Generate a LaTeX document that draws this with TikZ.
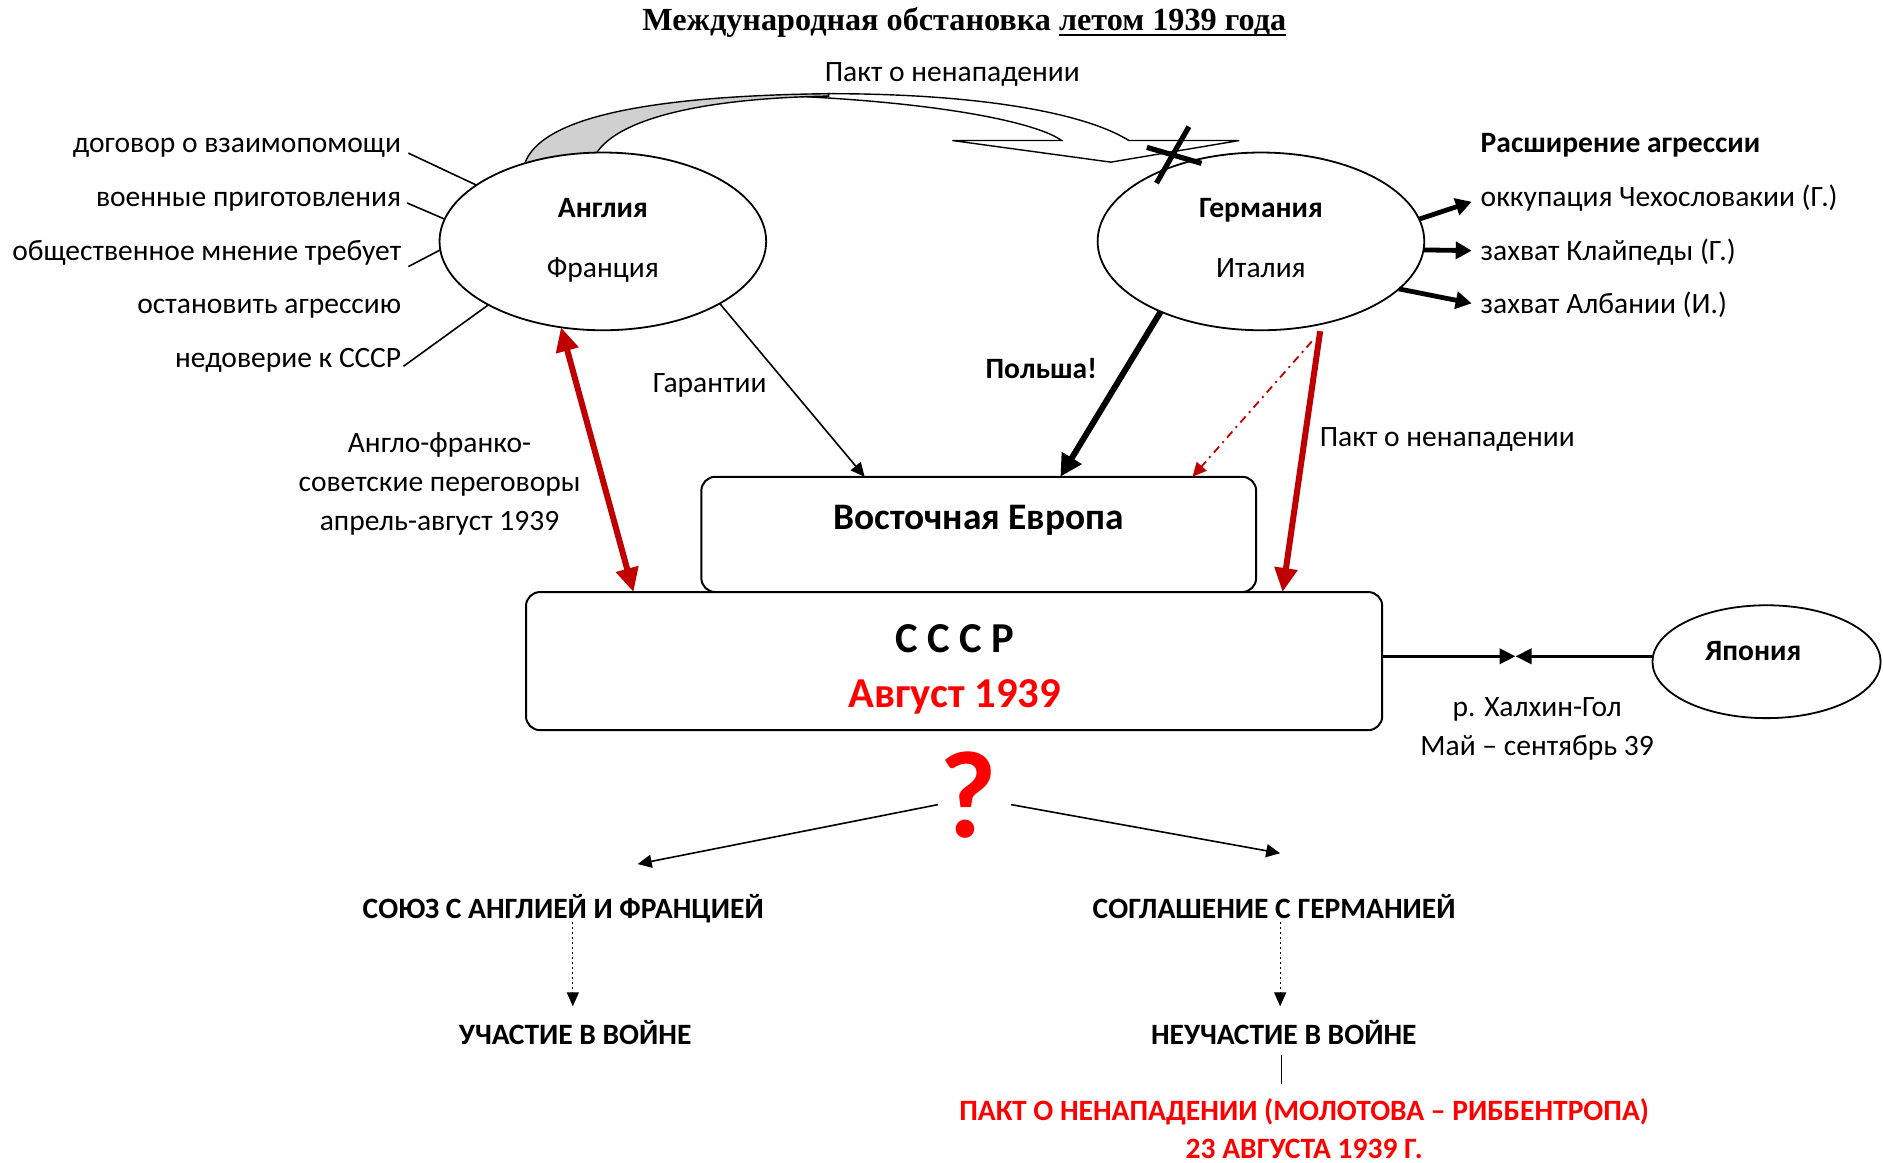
\documentclass[tikz,border=0pt]{standalone}
\usepackage{fontspec}
\setmainfont{Carlito}
\newfontfamily\titlefont{Liberation Serif}
\usetikzlibrary{arrows.meta,shapes.geometric,calc}
\definecolor{dred}{HTML}{C00000}
\definecolor{bred}{HTML}{FF0000}
\definecolor{ribgray}{HTML}{D0D0D0}
\newcommand{\thickul}[1]{{\setbox0\hbox{#1}\rlap{\rule[-3.2pt]{\wd0}{1.4pt}}\box0}}
\begin{document}
\begin{tikzpicture}[x=0.6pt,y=-0.6pt,
  lbl/.style={inner sep=0pt, outer sep=0pt, anchor=base, font=\fontsize{14.75}{17}\selectfont},
  blbl/.style={lbl, font=\fontsize{14.75}{17}\selectfont\bfseries},
  ovalnode/.style={ellipse, draw, line width=0.9pt, fill=white, inner sep=0pt, outer sep=0pt, minimum width=163.2pt, minimum height=88.8pt},
  boxnode/.style={rectangle, rounded corners=7pt, draw, line width=1pt, fill=white, inner sep=0pt, outer sep=0pt},
  thinarrow/.style={line width=0.8pt, -{Triangle[length=7pt,width=6.5pt]}},
  fatarrow/.style={line width=2.4pt, -{Triangle[length=8pt,width=8.5pt]}},
  polarrow/.style={line width=3pt, -{Triangle[length=11pt,width=11pt]}},
  redarrow/.style={line width=3pt, draw=dred, -{Triangle[length=12pt,width=11pt,fill=dred]}},
  dblred/.style={line width=3pt, draw=dred, {Triangle[length=12pt,width=11pt,fill=dred]}-{Triangle[length=12pt,width=11pt,fill=dred]}},
  dashred/.style={line width=0.9pt, draw=dred, dash pattern=on 4pt off 2.5pt on 1pt off 2.5pt, -{Triangle[length=7pt,width=6.5pt,fill=dred]}},
  jarrow/.style={line width=1.8pt, -{Triangle[length=8pt,width=7.5pt]}},
  dotarrow/.style={line width=0.6pt, dash pattern=on 1pt off 1.5pt, -{Triangle[length=7pt,width=6pt]}},
  tieline/.style={line width=0.8pt},
  crossline/.style={line width=2.6pt}
]
\useasboundingbox (0,0) rectangle (1568,968);

% title
\node[lbl, font=\fontsize{16.1}{19}\selectfont\titlefont\bfseries] (title) at (803,25) {Международная обстановка \thickul{летом 1939 года}};
\node[lbl] (pakttop) at (793,68) {Пакт о ненападении};

% curved ribbon arrow
\filldraw[fill=white, line width=0.7pt] (690,78) .. controls (820,78) and (905,95) .. (940,117) -- (1032,117) -- (925,135) -- (793,117) -- (884,117) .. controls (865,103) and (790,86) .. (660,80) -- cycle;
\filldraw[fill=ribgray, line width=0.7pt] (437,136) .. controls (450,100) and (530,80) .. (690,78) -- (690,80) .. controls (580,82) and (515,100) .. (497,127) -- cycle;

% ellipses
\node[ovalnode] (AF) at (502,201) {};
\node[ovalnode] (GI) at (1050,201) {};
\node[ovalnode, minimum width=114pt, minimum height=56.4pt] (JP) at (1471,551) {};

\node[blbl] (AFt1) at (502,181) {Англия};
\node[lbl] (AFt2) at (502,231) {Франция};
\node[blbl] (GIt1) at (1050,181) {Германия};
\node[lbl] (GIt2) at (1050,231) {Италия};
\node[blbl] (JPt) at (1460,550) {Япония};

% cross
\draw[crossline] (990,105.5) -- (963,152.5);
\draw[crossline] (955,122.7) -- (1000.5,136);

% boxes
\node[boxnode, minimum width=277.2pt, minimum height=57.6pt] (EE) at (815,445) {};
\node[boxnode, minimum width=427.8pt, minimum height=69pt] (USSR) at (794.5,550.5) {};
\node[lbl, font=\fontsize{18.7}{22}\selectfont\bfseries] (EEt) at (815,441) {Восточная Европа};
\node[lbl, font=\fontsize{21.3}{25}\selectfont\bfseries] (USSRt) at (795,543) {С С С Р};
\node[lbl, font=\fontsize{21.3}{25}\selectfont\bfseries, text=bred] (aug) at (795,589) {Август 1939};

% left labels
\node[lbl, anchor=base east] (l1) at (334,127) {договор о взаимопомощи};
\node[lbl, anchor=base east] (l2) at (334,172) {военные приготовления};
\node[lbl, anchor=base east] (l3) at (334,217) {общественное мнение требует};
\node[lbl, anchor=base east] (l4) at (334,261) {остановить агрессию};
\node[lbl, anchor=base east] (l5) at (334,306) {недоверие к СССР};
\draw[tieline] ($(l1.base east)+(6,0.5)$) -- (AF.156);
\draw[tieline] ($(l2.base east)+(5,-3)$) -- (AF.172);
\draw[tieline] ($(l3.base east)+(6,5)$) -- (AF.183);
\draw[tieline] ($(l5.base east)+(2,-1)$) -- (AF.209);

% right labels
\node[blbl, anchor=base west] (r0) at (1233,127) {Расширение агрессии};
\node[lbl, anchor=base west] (r1) at (1233,172) {оккупация Чехословакии (Г.)};
\node[lbl, anchor=base west] (r2) at (1233,217) {захват Клайпеды (Г.)};
\node[lbl, anchor=base west] (r3) at (1233,261) {захват Албании (И.)};
\draw[fatarrow] (GI.8) -- ($(r1.base west)+(-7.5,-4)$);
\draw[fatarrow] (GI.-3) -- ($(r2.base west)+(-7.5,-8.3)$);
\draw[fatarrow] (GI.-19) -- ($(r3.base west)+(-7.5,-8.4)$);

% middle labels and arrows
\node[lbl] (gar) at (591,327) {Гарантии};
\node[blbl] (pol) at (867,315) {Польша!};
\node[lbl, anchor=base west] (pakt2) at (1099,372) {Пакт о ненападении};
\node[lbl] (an1) at (366,377) {Англо-франко-};
\node[lbl] (an2) at (366,409) {советские переговоры};
\node[lbl] (an3) at (366,442) {апрель-август 1939};

\draw[thinarrow] (AF.-28) -- ([xshift=-57pt]EE.north);
\draw[polarrow] (GI.-145) -- ([xshift=40.8pt]EE.north);
\draw[dashred] ($(GI.-63)+(6,12)$) -- ([xshift=106.8pt]EE.north);
\draw[redarrow] ($(GI.-57)+(4,5)$) -- ([xshift=164.1pt]USSR.north);
\draw[dblred] (AF.-116) -- ([xshift=-160.2pt]USSR.north);

% Japan
\coordinate (meet) at (1262,546.5);
\draw[jarrow] (USSR.east |- meet) -- (meet);
\draw[jarrow] (JP.west |- meet) -- (meet);
\node[lbl] (hal) at (1280,597) {р. Халхин-Гол};
\node[lbl] (may) at (1280,629) {Май – сентябрь 39};

% question and outcomes
\node[lbl, font=\fontsize{62}{70}\selectfont\bfseries, text=bred] (q) at (806,697) {?};
\node[blbl] (soyuz) at (469,765) {СОЮЗ С АНГЛИЕЙ И ФРАНЦИЕЙ};
\node[blbl] (sogl) at (1061,765) {СОГЛАШЕНИЕ С ГЕРМАНИЕЙ};
\node[blbl] (uch) at (479,870) {УЧАСТИЕ В ВОЙНЕ};
\node[blbl] (neuch) at (1069,870) {НЕУЧАСТИЕ В ВОЙНЕ};
\node[blbl, text=bred] (pakt1) at (1086,933) {ПАКТ О НЕНАПАДЕНИИ (МОЛОТОВА – РИББЕНТРОПА)};
\node[blbl, text=bred] (pakt3) at (1086,965) {23 АВГУСТА 1939 Г.};

\draw[thinarrow] ($(q.base)+(-25,-27)$) -- ($(soyuz.base)+(62,-45.5)$);
\draw[thinarrow] ($(q.base)+(36,-27)$) -- ($(sogl.base)+(5,-54.5)$);
\draw[dotarrow] ($(soyuz.base)+(8,3)$) -- ($(uch.base)+(-2,-32)$);
\draw[dotarrow] ($(sogl.base)+(5,3)$) -- ($(neuch.base)+(-3,-32)$);
\draw[tieline] ($(neuch.base)+(-2,8.5)$) -- ($(pakt1.base)+(-19,-30)$);
\end{tikzpicture}
\end{document}
